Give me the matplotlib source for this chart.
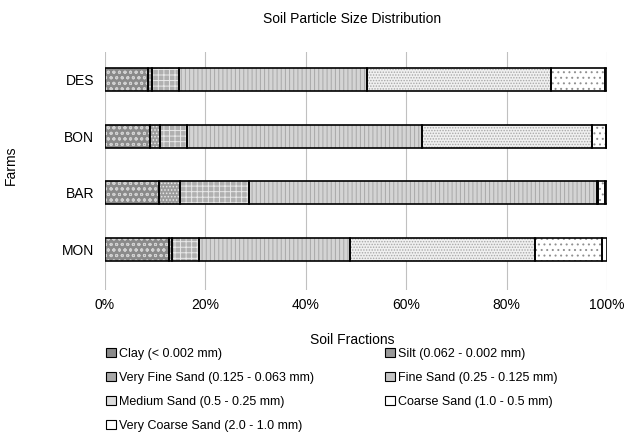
import matplotlib.pyplot as plt
from matplotlib.patches import Patch
from matplotlib.ticker import PercentFormatter

plt.rcParams['font.family'] = ['Liberation Sans', 'DejaVu Sans']
plt.rcParams['hatch.linewidth'] = 0.7

# Данные: доли фракций почвы (%) по фермам
farms = ['MON', 'BAR', 'BON', 'DES']
fractions = ['Clay (< 0.002 mm)', 'Silt (0.062 - 0.002 mm)',
             'Very Fine Sand (0.125 - 0.063 mm)', 'Fine Sand (0.25 - 0.125 mm)',
             'Medium Sand (0.5 - 0.25 mm)', 'Coarse Sand (1.0 - 0.5 mm)',
             'Very Coarse Sand (2.0 - 1.0 mm)']
clay = [12.8, 10.8, 9.0, 8.5]
silt = [0.6, 4.1, 2.0, 0.9]
very_fine_sand = [5.4, 13.8, 5.4, 5.3]
fine_sand = [30.1, 69.3, 46.7, 37.5]
medium_sand = [36.8, 0.3, 34.0, 36.7]
coarse_sand = [13.3, 1.3, 2.7, 10.7]
very_coarse_sand = [1.0, 0.4, 0.2, 0.4]
x_ticks = [0, 20, 40, 60, 80, 100]

series = [clay, silt, very_fine_sand, fine_sand, medium_sand, coarse_sand, very_coarse_sand]
# (заливка, штриховка, цвет штриховки, цвет в легенде)
styles = [('#8a8a8a', 'ooo', '#d0d0d0', '#8a8a8a'),
          ('#9c9c9c', '.....', '#e8e8e8', '#999999'),
          ('#b0b0b0', '+++', '#e8e8e8', '#a8a8a8'),
          ('#d4d4d4', '||||', '#a8a8a8', '#c4c4c4'),
          ('#f0f0f0', '......', '#a8a8a8', '#dcdcdc'),
          ('#ffffff', '...', '#909090', '#ffffff'),
          ('#ffffff', '', '#ffffff', '#ffffff')]

fig = plt.figure(figsize=(6.38, 4.48), dpi=100)
ax = fig.add_axes([105 / 638, 1 - 290 / 448, 502 / 638, 238 / 448])

pos = range(len(farms))
left = [0.0] * len(farms)
for vals, (face, hatch, hcol, _) in zip(series, styles):
    ax.barh(pos, vals, left=left, height=0.41, color=face, hatch=hatch,
            edgecolor=hcol, linewidth=0, zorder=2)
    ax.barh(pos, vals, left=left, height=0.41, fill=False,
            edgecolor='black', linewidth=1.2, zorder=3)
    left = [l + v for l, v in zip(left, vals)]

ax.set_xlim(0, 100)
ax.set_ylim(-0.72, 3.49)
ax.set_xticks(x_ticks)
ax.xaxis.set_major_formatter(PercentFormatter(decimals=0))
ax.set_yticks(list(pos))
ax.set_yticklabels(farms)
ax.grid(axis='x', color='#c0c0c0', linewidth=0.8, zorder=0)
for s in ax.spines.values():
    s.set_visible(False)
ax.tick_params(length=0, labelsize=10, colors='black', pad=6)
ax.tick_params(axis='y', pad=8)

fig.text(352 / 638, 1 - 19 / 448, 'Soil Particle Size Distribution',
         ha='center', va='center', fontsize=10)
fig.text(352 / 638, 1 - 340 / 448, 'Soil Fractions',
         ha='center', va='center', fontsize=10)
fig.text(11 / 638, 1 - 165 / 448, 'Farms', rotation=90,
         ha='center', va='center', fontsize=10)

handles = [Patch(facecolor=lc, edgecolor='black', linewidth=0.8) for f, h, c, lc in styles]
col1 = [0, 2, 4, 6]
col2 = [1, 3, 5]
for idx, x0 in ((col1, 100), (col2, 379)):
    fig.legend([handles[i] for i in idx], [fractions[i] for i in idx],
               loc='upper left', bbox_to_anchor=(x0 / 638, 1 - 342 / 448),
               frameon=False, fontsize=9, handlelength=0.75, handleheight=0.75,
               handletextpad=0.25, labelspacing=0.95, borderpad=0)

fig.savefig('out.png', dpi=100)
